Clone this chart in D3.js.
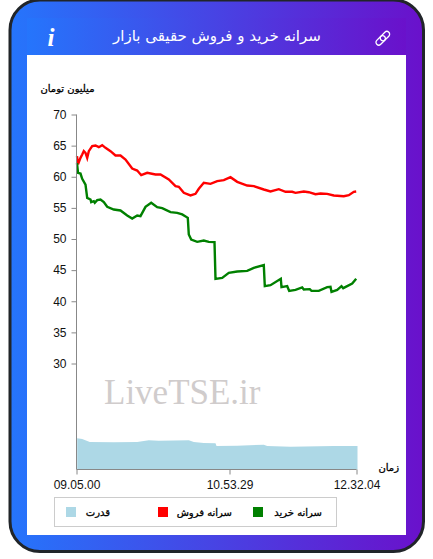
<!DOCTYPE html>
<html><head><meta charset="utf-8">
<script src="https://cdn.jsdelivr.net/npm/d3@7"></script>
<style>html,body{margin:0;padding:0;background:#fff;overflow:hidden}svg{display:block}</style>
</head><body><div id="c"></div>
<script>
const title = "سرانه خرید و فروش حقیقی بازار";
const yUnit = "میلیون تومان";
const xUnit = "زمان";
const watermark = "LiveTSE.ir";
const seriesNames = ["سرانه خرید","سرانه فروش","قدرت"];
const seriesColors = ["green","red","lightblue"];
const yTicks = [30,35,40,45,50,55,60,65,70];
const xTickPos = [0,153,280];
const xTickLabels = ["09.05.00","10.53.29","12.32.04"];

const sellX = [0.5,1.5,4,5.7,7.3,9,10.7,12.3,15.7,19,22.3,25.7,29,34,39,44,49,55.7,60.7,64.7,70.7,79,84,92.3,99,102.3,107.3,114,119,122.3,127.3,134,140.7,147.3,154,160.7,170.7,177.3,187.3,194,202.3,209,215.7,219,227.3,232.3,239,244,250.7,257.3,267.3,272.3,277.3,279.7];
const sellV = [63.3,62,63.04,63.57,64.11,63.84,63.04,64.11,64.91,65.02,64.75,65.07,64.64,64.11,63.41,63.41,62.77,61.32,61,60.25,60.63,60.36,60.36,59.56,58.49,58.38,57.42,56.99,57.26,58.06,59.02,58.86,59.29,59.45,59.93,59.18,58.59,58.49,57.95,57.63,58,57.58,57.58,57.42,57.63,57.52,57.2,57.31,57.25,56.99,56.88,57.04,57.58,57.63];
const buyX = [0.5,1.5,4,5.7,9,10.7,14,14.7,17.3,18.3,20.7,24,27.3,30.7,37.3,44,50.7,55.7,60.7,64,69,74.7,80.7,85.7,94,100.7,105.7,111.3,112.3,114.7,120.7,127.3,132.3,138,139,145.7,152.3,160.7,170.7,177.3,187.3,188.3,194,204.3,205,210.7,212.7,219,225.7,227.3,233.3,235,242.3,250.7,254,255,260.7,265,266.7,275.7,279.7];
const buyV = [62.2,60.63,60.52,59.66,58.75,56.61,56.35,55.92,56.08,55.81,56.24,56.35,55.92,55.17,54.74,54.58,53.78,53.29,53.78,53.67,55.17,55.81,55.11,54.95,54.31,54.2,53.94,53.4,50.72,49.92,49.54,49.76,49.54,49.49,43.6,43.76,44.56,44.78,44.88,45.37,45.8,42.42,42.58,43.6,42.26,42.42,41.67,41.83,42.21,41.89,41.94,41.67,41.67,42.26,42.32,41.51,41.83,42.42,42.1,42.85,43.6];
const powerX = [0.7,5.7,13.3,37.3,60.7,72.3,82.3,112.3,117.3,127.3,139,140,160.7,187.3,190.7,214,257.3,281];
const powerV = [31.2,30.5,27.5,27.2,27.5,29.2,28.8,29.2,27.5,26.5,26.2,23.5,23.8,24.8,23.5,22.8,23.5,23.5];

const W=433,H=559;
const svg=d3.select("#c").append("svg").attr("width",W).attr("height",H);
const defs=svg.append("defs");
const g=defs.append("linearGradient").attr("id","bg").attr("x1","0").attr("x2","1").attr("y1","0").attr("y2","0");
g.append("stop").attr("offset","0%").attr("stop-color","#2575fc");
g.append("stop").attr("offset","100%").attr("stop-color","#6a11cb");

svg.append("rect").attr("x",10).attr("y",0).attr("width",413.5).attr("height",551.5).attr("rx",30).attr("fill","url(#bg)").attr("stroke","#212529").attr("stroke-width",3);
svg.append("rect").attr("x",27).attr("y",18).attr("width",379).attr("height",37).attr("fill","url(#bg)");
svg.append("rect").attr("x",27).attr("y",55).attr("width",379).attr("height",480).attr("fill","#fff");

const AR="'DejaVu Sans',sans-serif";
svg.append("text").attr("x",217).attr("y",41).attr("text-anchor","middle").attr("direction","rtl").attr("fill","#fff").attr("font-family",AR).attr("font-size",15).text(title);
svg.append("text").attr("x",51).attr("y",45.5).attr("text-anchor","middle").attr("fill","#fff").attr("font-family","'Liberation Serif',serif").attr("font-weight","bold").attr("font-style","italic").attr("font-size",25).text("i");
const link=svg.append("g").attr("transform","translate(382.8,38.3) rotate(-45)").attr("fill","none").attr("stroke","#fff").attr("stroke-width",1.3);
link.append("rect").attr("x",-8.5).attr("y",-2.8).attr("width",11).attr("height",5.6).attr("rx",2.8);
link.append("rect").attr("x",-2.5).attr("y",-2.8).attr("width",11).attr("height",5.6).attr("rx",2.8);

const x=d3.scaleLinear().domain([0,280]).range([76.5,356.5]);
const y=d3.scaleLinear().domain([30,70]).range([363.5,114.5]);
const yP=d3.scaleLinear().domain([0,100]).range([469.5,369.5]);

svg.append("text").attr("x",260.5).attr("y",403.5).attr("text-anchor","end").attr("fill","#d0cccc").attr("font-family","'Liberation Serif',serif").attr("font-size",35).text(watermark);

const toPts=(a,b)=>a.map((d,i)=>[d,b[i]]);
svg.append("path").datum(toPts(powerX,powerV)).attr("fill",seriesColors[2])
 .attr("d",d3.area().x(d=>x(d[0])).y0(yP(0)).y1(d=>yP(d[1])));
const line=d3.line().x(d=>x(d[0])).y(d=>y(d[1]));
svg.append("path").datum(toPts(sellX,sellV)).attr("fill","none").attr("stroke",seriesColors[1]).attr("stroke-width",2.4).attr("d",line);
svg.append("path").datum(toPts(buyX,buyV)).attr("fill","none").attr("stroke",seriesColors[0]).attr("stroke-width",2.4).attr("d",line);

const ax=svg.append("g").attr("transform","translate(76.5,0)").call(d3.axisLeft(y).tickValues(yTicks).tickSize(5).tickPadding(5).tickFormat(d3.format("d")));
ax.select(".domain").remove();
ax.append("line").attr("x1",0).attr("x2",0).attr("y1",114.5).attr("y2",469.5);
const bx=svg.append("g").attr("transform","translate(0,469.5)").call(d3.axisBottom(x).tickValues(xTickPos).tickSize(5).tickPadding(6).tickFormat((d,i)=>xTickLabels[i]));
bx.select(".domain").remove();
bx.append("line").attr("x1",76.5).attr("x2",356.5).attr("y1",0).attr("y2",0);
svg.selectAll("g line").attr("stroke","#888").attr("stroke-width",1);
svg.selectAll("g text").filter(function(){return this.closest(".tick")}).attr("fill","#111").attr("font-family","'Liberation Sans',Arial,sans-serif").attr("font-size",12);

function boldLabel(xp,yp,t){
 svg.append("text").attr("x",xp).attr("y",yp).attr("text-anchor","end").attr("font-family",AR).attr("font-size",10).attr("fill","#000").attr("stroke","#000").attr("stroke-width",0.3).text(t);
}
boldLabel(94.5,92,yUnit);
boldLabel(399,471,xUnit);

svg.append("rect").attr("x",54.5).attr("y",497.5).attr("width",282).attr("height",29).attr("fill","#fff").attr("stroke","#ccc");
const swX=[253,158,66], txX=[322,232,110];
seriesNames.forEach((n,i)=>{
 svg.append("rect").attr("x",swX[i]).attr("y",507).attr("width",10).attr("height",10).attr("fill",seriesColors[i]);
 boldLabel(txX[i],516,n);
});
</script></body></html>
